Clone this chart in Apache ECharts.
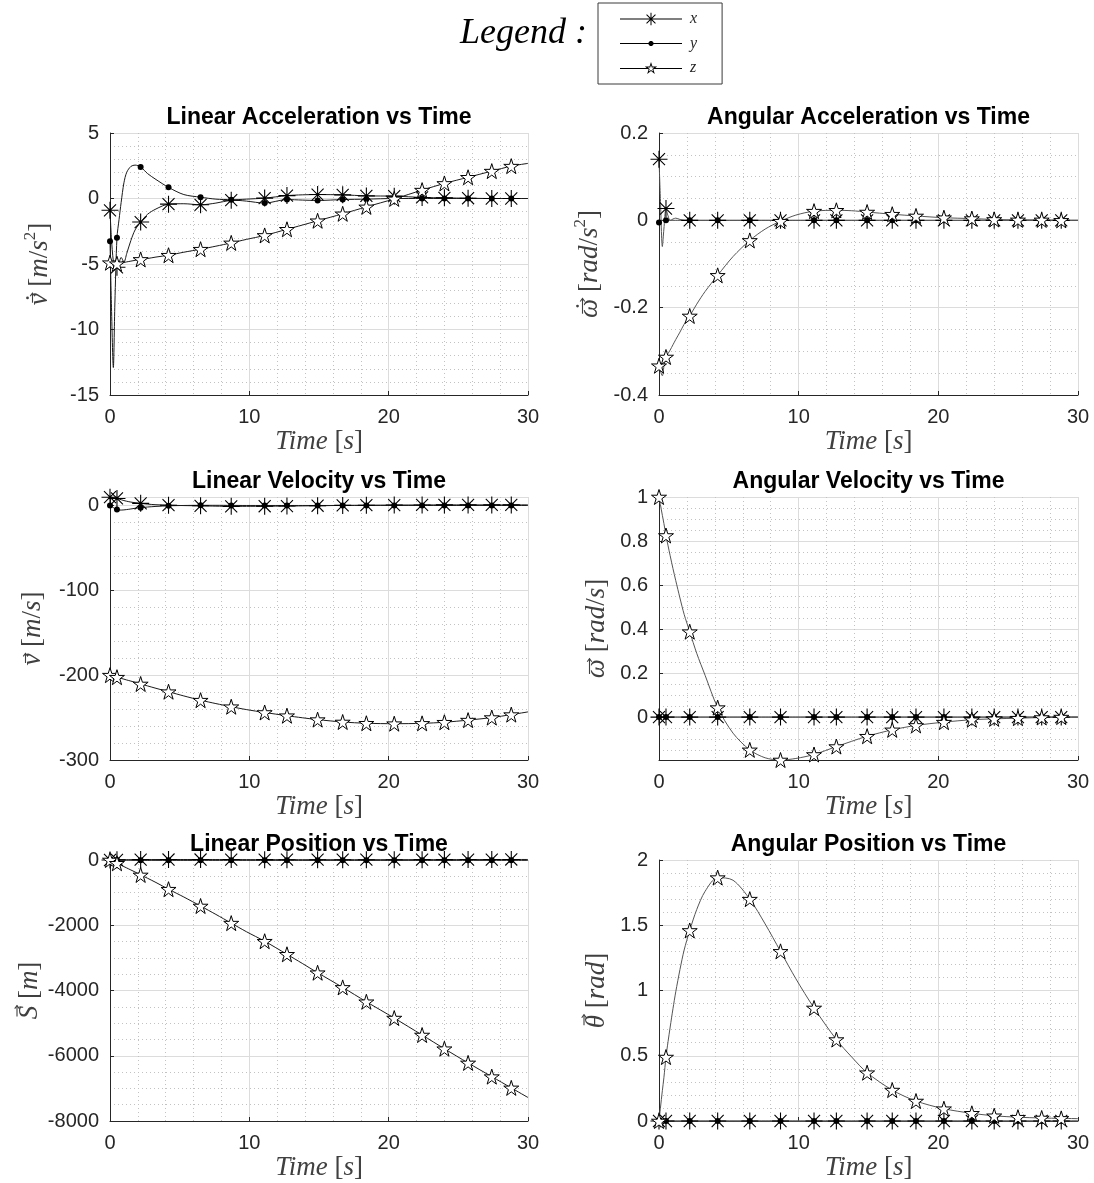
<!DOCTYPE html>
<html>
<head>
<meta charset="utf-8">
<title>Vehicle states vs time</title>
<script src="https://cdn.jsdelivr.net/npm/echarts@6/dist/echarts.min.js"></script>
<style>
  html, body { margin: 0; padding: 0; background: #fff; }
  #chart { width: 1094px; height: 1183px; }
</style>
</head>
<body>
<div id="chart"></div>
<script>
// ---- time base [s] and the samples that carry a marker ----
const time = [0, 0.1, 0.24, 0.35, 0.5, 0.65, 0.8, 1.0, 1.2, 1.5, 1.8, 2.2, 2.7, 3.3, 4.2, 5.3, 6.5, 7.6, 8.7, 9.8,
              11.1, 12.7, 13.8, 14.9, 16.7, 18.4, 20.4, 22.4, 24.0, 25.7, 27.4, 28.8, 30];
const markerIdx = [0, 4, 11, 14, 16, 18, 20, 21, 23, 24, 25, 26, 27, 28, 29, 30, 31];

// ---- linear acceleration [m/s^2] ----
const linAccX = [-0.9, -3.0, -4.8, -5.2, -5.25, -4.9, -4.5, -4.85, -4.2, -3.2, -2.4, -1.8, -1.2, -0.8, -0.43, -0.4, -0.48, -0.35, -0.13, -0.05,
                 0.03, 0.22, 0.28, 0.3, 0.28, 0.2, 0.18, 0.08, 0.05, 0.02, 0, 0, 0];
const linAccY = [-3.26, -8.0, -12.9, -8.0, -3.0, -1.6, -0.3, 1.2, 2.0, 2.45, 2.55, 2.4, 1.9, 1.45, 0.85, 0.3, 0.1, -0.05, -0.1, -0.2,
                 -0.35, -0.08, -0.12, -0.15, -0.08, -0.05, 0, 0, 0, 0, 0, 0, 0];
const linAccZ = [-4.9, -4.92, -4.95, -4.97, -4.98, -4.96, -4.93, -4.88, -4.84, -4.78, -4.72, -4.65, -4.58, -4.47, -4.33, -4.1, -3.87, -3.64, -3.39, -3.12,
                 -2.82, -2.35, -2.03, -1.7, -1.17, -0.64, -0.03, 0.64, 1.15, 1.62, 2.09, 2.47, 2.68];

// ---- angular acceleration [rad/s^2] ----
const angAccX = [0.14, 0.05, -0.06, -0.02, 0.027, 0.01, 0, 0.003, 0.005, 0.002, 0, 0, 0, 0, 0, 0, 0, 0, 0, 0,
                 0, 0, 0, 0, 0, 0, 0, 0, 0, 0, 0, 0, 0];
const angAccY = [-0.005, 0, 0, 0, 0, 0, 0, 0, 0, 0, 0, 0, 0, 0, 0, 0, 0, 0, 0, 0,
                 0, 0, 0, 0, 0, 0, 0, 0, 0, 0, 0, 0, 0];
const angAccZ = [-0.333, -0.345, -0.356, -0.335, -0.313, -0.305, -0.297, -0.285, -0.273, -0.256, -0.238, -0.219, -0.192, -0.163, -0.126, -0.083, -0.046, -0.02, -0.002, 0.012,
                 0.021, 0.023, 0.022, 0.019, 0.014, 0.01, 0.006, 0.004, 0.002, 0.001, 0.001, 0, 0];

// ---- linear velocity [m/s] ----
const linVelX = [9.8, 9.6, 9.2, 8.8, 8.3, 7.6, 6.8, 5.8, 5.0, 4.0, 3.3, 2.5, 1.6, 0.9, 0.3, -0.1, -0.4, -0.8, -1.0, -1.0,
                 -0.9, -0.7, -0.5, -0.3, 0.1, 0.3, 0.5, 0.6, 0.7, 0.7, 0.7, 0.7, 0.7];
const linVelY = [0, -0.8, -2.5, -3.8, -4.8, -5.3, -5.4, -5.2, -4.8, -4.1, -3.3, -2.6, -1.8, -1.1, -0.4, 0, 0.2, 0.2, 0.1, 0,
                 0, 0, 0, 0, 0, 0, 0, 0, 0, 0, 0, 0, 0];
const linVelZ = [-200, -200.5, -201.2, -201.7, -202.4, -203, -203.8, -204.7, -205.7, -207, -208.5, -210.4, -212.7, -215.5, -219.5, -224.5, -229.5, -233.5, -237.2, -240.6,
                 -244, -247.8, -250.2, -252.4, -255.2, -256.7, -257.2, -256.8, -255.5, -253, -250, -246.5, -243.3];

// ---- angular velocity [rad/s] ----
const angVelX = [0, 0, 0, 0, 0, 0, 0, 0, 0, 0, 0, 0, 0, 0, 0, 0, 0, 0, 0, 0,
                 0, 0, 0, 0, 0, 0, 0, 0, 0, 0, 0, 0, 0];
const angVelY = [0, 0, 0, 0, 0, 0, 0, 0, 0, 0, 0, 0, 0, 0, 0, 0, 0, 0, 0, 0,
                 0, 0, 0, 0, 0, 0, 0, 0, 0, 0, 0, 0, 0];
const angVelZ = [1.0, 0.966, 0.917, 0.88, 0.825, 0.778, 0.733, 0.675, 0.62, 0.541, 0.467, 0.388, 0.29, 0.19, 0.043, -0.073, -0.149, -0.185, -0.195, -0.188,
                 -0.17, -0.134, -0.11, -0.087, -0.058, -0.038, -0.023, -0.012, -0.008, -0.005, -0.002, 0, 0];

// ---- linear position [m] ----
const linPosX = [0, 1, 2.3, 3.3, 4.6, 5.8, 6.9, 8.1, 9.2, 10.5, 11.6, 12.8, 13.8, 14.5, 15.1, 15.2, 14.9, 14.2, 13.2, 12.1,
                 10.9, 9.6, 9.0, 8.7, 8.6, 9.0, 9.8, 10.9, 12.0, 13.2, 14.4, 15.4, 16.2];
const linPosY = [0, -0.04, -0.3, -0.65, -1.3, -2.1, -2.9, -4, -5, -6.3, -7.4, -8.6, -9.7, -10.6, -11.3, -11.3, -11.1, -10.9, -10.8, -10.8,
                 -10.8, -10.8, -10.8, -10.8, -10.8, -10.8, -10.8, -10.8, -10.8, -10.8, -10.8, -10.8, -10.8];
const linPosZ = [0, -20, -48, -70, -101, -131, -162, -203, -244, -306, -368, -458, -560, -690, -895, -1135, -1410, -1668, -1935, -2200,
                 -2490, -2890, -3170, -3455, -3905, -4345, -4845, -5365, -5785, -6220, -6640, -6985, -7280];

// ---- angular position [rad] ----
const angPosX = [0, 0, 0, 0, 0, 0, 0, 0, 0, 0, 0, 0, 0, 0, 0, 0, 0, 0, 0, 0,
                 0, 0, 0, 0, 0, 0, 0, 0, 0, 0, 0, 0, 0];
const angPosY = [0, 0, 0, 0, 0, 0, 0, 0, 0, 0, 0, 0, 0, 0, 0, 0, 0, 0, 0, 0,
                 0, 0, 0, 0, 0, 0, 0, 0, 0, 0, 0, 0, 0];
const angPosZ = [0, 0.098, 0.232, 0.331, 0.49, 0.61, 0.72, 0.86, 0.99, 1.16, 1.31, 1.46, 1.62, 1.76, 1.865, 1.845, 1.70, 1.51, 1.30, 1.09,
                 0.866, 0.624, 0.49, 0.37, 0.237, 0.153, 0.094, 0.059, 0.04, 0.029, 0.023, 0.02, 0.018];

// ---- axis ranges: [min, max, major step (null = automatic), minor divisions] ----
const timeRange   = [0, 30, 10, 5];
const linAccRange = [-15, 5, 5, 5];
const angAccRange = [-0.4, 0.2, 0.2, 4];
const linVelRange = [-300, 10, 100, 5];
const angVelRange = [-0.195, 1, null, 4];
const linPosRange = [-8000, 0, 2000, 4];
const angPosRange = [0, 2, 0.5, 5];

// ---- texts ----
const titles = ['Linear Acceleration vs Time', 'Angular Acceleration vs Time',
                'Linear Velocity vs Time', 'Angular Velocity vs Time',
                'Linear Position vs Time', 'Angular Position vs Time'];
const timeName = '{i|Time}{r| [}{i|s}{r|]}';
// y labels: vector symbol (with optional time derivative dot) followed by the unit
const yLabels = [
  { sym: 'v',      tall: false, deriv: true,  unit: [['m', 1], ['/', 0], ['s', 1], ['2', 2]] },
  { sym: '\u03C9', tall: false, deriv: true,  unit: [['rad', 1], ['/', 0], ['s', 1], ['2', 2]] },
  { sym: 'v',      tall: false, deriv: false, unit: [['m', 1], ['/', 0], ['s', 1]] },
  { sym: '\u03C9', tall: false, deriv: false, unit: [['rad', 1], ['/', 0], ['s', 1]] },
  { sym: 'S',      tall: true,  deriv: false, unit: [['m', 1]] },
  { sym: '\u03B8', tall: true,  deriv: false, unit: [['rad', 1]] }
];

// ---- marker shapes ----
function polyPath(pts) {
  return 'M' + pts.map(p => p[0].toFixed(2) + ',' + p[1].toFixed(2)).join(' L') + ' Z ';
}
function armPath(cx, cy, deg, len, hw) {
  const a = deg * Math.PI / 180, dx = Math.cos(a), dy = Math.sin(a), nx = -dy, ny = dx;
  return polyPath([
    [cx - dx * len - nx * hw, cy - dy * len - ny * hw],
    [cx + dx * len - nx * hw, cy + dy * len - ny * hw],
    [cx + dx * len + nx * hw, cy + dy * len + ny * hw],
    [cx - dx * len + nx * hw, cy - dy * len + ny * hw]
  ]);
}
function rectPath(x0, y0, x1, y1) { return polyPath([[x0, y0], [x1, y0], [x1, y1], [x0, y1]]); }
function starPts(cx, cy, R, r) {
  const pts = [];
  for (let k = 0; k < 10; k++) {
    const a = (-90 + 36 * k) * Math.PI / 180, rad = k % 2 === 0 ? R : r;
    pts.push([cx + rad * Math.cos(a), cy + rad * Math.sin(a)]);
  }
  return pts;
}
function circlePts(cx, cy, r) {
  const pts = [];
  for (let k = 0; k < 20; k++) {
    const a = k / 20 * 2 * Math.PI;
    pts.push([cx + r * Math.cos(a), cy + r * Math.sin(a)]);
  }
  return pts;
}
function asteriskPath(cx, cy, len, hw) {
  return [0, 45, 90, 135].map(d => armPath(cx, cy, d, len, hw)).join('');
}

const ASTERISK = 'path://' + asteriskPath(50, 50, 50, 3.2);
const PENTAGRAM = 'path://' + polyPath(starPts(50, 50, 50, 19.1));

// legend icons: line with the marker in its middle (62 x 14 box)
const starR = 6.5;
const iconX = 'path://' + rectPath(0, 6.5, 62, 7.5) + asteriskPath(31, 7, 6.3, 0.5);
const iconY = 'path://' + rectPath(0, 6.5, 62, 7.5) + polyPath(circlePts(31, 7, 2.6));
const iconZ = 'path://' + rectPath(0, 6.5, 31 - 3.5, 7.5) + rectPath(31 + 3.5, 6.5, 62, 7.5) +
              polyPath(starPts(31, 7, starR, starR * 0.382)) +
              polyPath(starPts(31, 7, starR * 0.55, starR * 0.382 * 0.55).reverse());

// ---- layout ----
const colLeft = [110, 659], colWidth = [418, 419];
const rowTop = [133, 497, 860], rowHeight = [262, 263, 261];
const titleTop = [106, 470, 833];
const yLabelX = [40, 590, 33, 597, 30, 597];
// curve colour per panel (linear panels dark, angular panels grey)
const curveColor = ['#1a1a1a', '#555555', '#1a1a1a', '#555555', '#1a1a1a', '#555555'];

const panels = [
  { x: linAccX, y: linAccY, z: linAccZ, range: linAccRange },
  { x: angAccX, y: angAccY, z: angAccZ, range: angAccRange },
  { x: linVelX, y: linVelY, z: linVelZ, range: linVelRange },
  { x: angVelX, y: angVelY, z: angVelZ, range: angVelRange },
  { x: linPosX, y: linPosY, z: linPosZ, range: linPosRange },
  { x: angPosX, y: angPosY, z: angPosZ, range: angPosRange }
];

const markerSet = new Set(markerIdx);
function toData(vals) {
  return time.map((t, i) => markerSet.has(i) ? [t, vals[i]] : { value: [t, vals[i]], symbol: 'none' });
}
const fmt = v => String(Math.round(v * 1000) / 1000);

const INK = '#262626';
const LABEL_INK = '#404040';
const tickFont = 'Liberation Sans';
const serif = 'Liberation Serif';
const NAME_SIZE = 27;
const nameRich = {
  i: { fontFamily: serif, fontStyle: 'italic', fontSize: NAME_SIZE, color: LABEL_INK },
  r: { fontFamily: serif, fontSize: NAME_SIZE, color: LABEL_INK }
};

function axisBase(range) {
  const ax = {
    type: 'value', min: range[0], max: range[1],
    axisLine: { show: true, onZero: false, lineStyle: { color: INK, width: 1 } },
    axisTick: { show: true, inside: true, length: 4, lineStyle: { color: INK, width: 1 } },
    axisLabel: { fontSize: 20, color: INK, fontFamily: tickFont, formatter: fmt },
    splitLine: { show: true, lineStyle: { color: '#dcdcdc', width: 1 } },
    minorTick: { show: false, splitNumber: range[3] },
    minorSplitLine: { show: true, lineStyle: { color: '#c2c2c2', width: 1, type: [1, 3] } },
    nameLocation: 'middle', nameMoveOverlap: false,
    nameTextStyle: { rich: nameRich }
  };
  if (range[2] !== null) ax.interval = range[2];
  else ax.splitNumber = 5;
  return ax;
}

// rotated y label built from text pieces plus the vector arrow / derivative dot
const measureCtx = document.createElement('canvas').getContext('2d');
function textWidth(s, font) { measureCtx.font = font; return measureCtx.measureText(s).width; }
function yLabelGraphic(lab, cx, cy) {
  const fIt = 'italic ' + NAME_SIZE + 'px "' + serif + '"';
  const fUp = NAME_SIZE + 'px "' + serif + '"';
  const fSup = '17px "' + serif + '"';
  const pieces = [{ s: lab.sym, font: fIt, dy: 0 }, { s: ' [', font: fUp, dy: 0 }];
  lab.unit.forEach(u => pieces.push({ s: u[0], font: u[1] === 1 ? fIt : (u[1] === 2 ? fSup : fUp), dy: u[1] === 2 ? -9 : 0 }));
  pieces.push({ s: ']', font: fUp, dy: 0 });
  pieces.forEach(p => { p.w = textWidth(p.s, p.font); });
  const total = pieces.reduce((a, p) => a + p.w, 0);
  let x = -total / 2;
  const children = [];
  pieces.forEach(p => {
    children.push({ type: 'text', x: x, y: p.dy,
      style: { text: p.s, font: p.font, fill: LABEL_INK, align: 'left', verticalAlign: 'middle' } });
    p.x = x; x += p.w;
  });
  // arrow over the symbol
  const s0 = pieces[0];
  const ay = lab.tall ? -13 : -7.5;
  const ax0 = s0.x + s0.w * 0.22, ax1 = s0.x + s0.w * 1.02;
  children.push({ type: 'polyline', shape: { points: [[ax0, ay], [ax1, ay]] },
    style: { stroke: LABEL_INK, lineWidth: 1.1, fill: null } });
  children.push({ type: 'polyline', shape: { points: [[ax1 - 3, ay - 2.3], [ax1, ay], [ax1 - 3, ay + 2.3]] },
    style: { stroke: LABEL_INK, lineWidth: 1.1, fill: null } });
  if (lab.deriv) {
    children.push({ type: 'circle', shape: { cx: (ax0 + ax1) / 2, cy: ay - 5, r: 1.4 }, style: { fill: LABEL_INK } });
  }
  return { type: 'group', x: cx, y: cy, rotation: Math.PI / 2, silent: true, children: children };
}

const grid = [], xAxis = [], yAxis = [], title = [], series = [], graphics = [];
panels.forEach((p, i) => {
  const col = i % 2, row = Math.floor(i / 2);
  grid.push({ left: colLeft[col], top: rowTop[row], width: colWidth[col], height: rowHeight[row],
              containLabel: false, outerBoundsMode: 'none' });
  title.push({
    text: titles[i], left: colLeft[col] + colWidth[col] / 2, top: titleTop[row], textAlign: 'center', padding: 0,
    textStyle: { fontFamily: tickFont, fontWeight: 'bold', fontSize: 23, color: '#000' }
  });
  const xa = axisBase(timeRange);
  xa.gridIndex = i;
  xa.axisLabel.margin = 12;
  xa.name = timeName; xa.nameGap = 33;
  xAxis.push(xa);
  const ya = axisBase(p.range);
  ya.gridIndex = i;
  ya.axisLabel.margin = 11;
  if (i === 2) ya.axisLabel.showMaxLabel = false;
  if (i === 3) ya.axisLabel.showMinLabel = false;
  yAxis.push(ya);
  graphics.push(yLabelGraphic(yLabels[i], yLabelX[i], rowTop[row] + rowHeight[row] / 2));

  const common = {
    type: 'line', xAxisIndex: i, yAxisIndex: i, smooth: 0.3, showSymbol: true, showAllSymbol: true,
    clip: false, silent: true, animation: false, emphasis: { disabled: true }
  };
  const lc = curveColor[i];
  series.push(Object.assign({}, common, {
    name: 'x', data: toData(p.x), symbol: ASTERISK, symbolSize: 17,
    itemStyle: { color: '#000', borderWidth: 0 }, lineStyle: { color: lc, width: 1 }
  }));
  series.push(Object.assign({}, common, {
    name: 'y', data: toData(p.y), symbol: 'circle', symbolSize: 6,
    itemStyle: { color: '#000', borderWidth: 0 }, lineStyle: { color: lc, width: 1 }
  }));
  series.push(Object.assign({}, common, {
    name: 'z', data: toData(p.z), symbol: PENTAGRAM, symbolSize: 15,
    itemStyle: { color: '#fff', borderColor: '#000', borderWidth: 1 }, lineStyle: { color: lc, width: 1 }
  }));
});

graphics.push({
  type: 'text', left: 460, top: 16,
  style: { text: 'Legend :', font: 'italic 36px "Liberation Serif"', fill: '#000' }
});

const chart = echarts.init(document.getElementById('chart'), null, { renderer: 'canvas' });
chart.setOption({
  backgroundColor: '#fff',
  animation: false,
  title: title,
  grid: grid,
  xAxis: xAxis,
  yAxis: yAxis,
  series: series,
  legend: {
    left: 598, top: 3, orient: 'vertical', selectedMode: false,
    itemWidth: 62, itemHeight: 14, itemGap: 8.5,
    padding: [8, 25, 8, 22],
    borderColor: '#3a3a3a', borderWidth: 1, backgroundColor: '#fff',
    textStyle: { fontFamily: serif, fontStyle: 'italic', fontSize: 16, color: INK, padding: [0, 0, 0, 3] },
    data: [
      { name: 'x', icon: iconX, itemStyle: { color: '#000', borderWidth: 0 } },
      { name: 'y', icon: iconY, itemStyle: { color: '#000', borderWidth: 0 } },
      { name: 'z', icon: iconZ, itemStyle: { color: '#000', borderWidth: 0 } }
    ]
  },
  graphic: graphics
});
</script>
</body>
</html>
